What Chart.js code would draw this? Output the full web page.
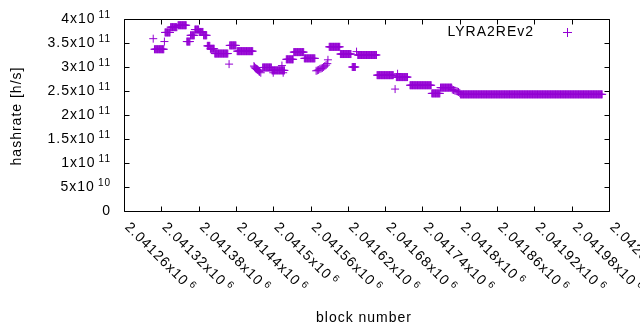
<!DOCTYPE html>
<html><head><meta charset="utf-8">
<script src="https://cdn.jsdelivr.net/npm/chart.js@4/dist/chart.umd.min.js"></script>
<style>html,body{margin:0;padding:0;background:#fff}canvas{display:block}</style>
</head><body>
<canvas id="c" width="640" height="330"></canvas>
<script>
// ---- data ----
const seriesName = 'LYRA2REv2';
const xAxisTitle = 'block number';
const yAxisTitle = 'hashrate [h/s]';

// runs of consecutive blocks sharing one hashrate value (units of 1e11 h/s)
const runFrom  = [2041309,2041326,2041335,2041347,2041361,2041367,2041374,2041381,2041388,2041394,2041399,2041406,2041430,2041442,2041483,2041498,2041521,2041533,2041550,2041590,2041608,2041627,2041636,2041667,2041698,2041720,2041755,2041769,2041801];
const runTo    = [2041324,2041334,2041345,2041360,2041366,2041373,2041380,2041387,2041393,2041398,2041405,2041427,2041440,2041467,2041497,2041518,2041532,2041549,2041567,2041607,2041625,2041632,2041666,2041693,2041716,2041754,2041768,2041787,2042029];
const runRates = [3.37,3.72,3.83,3.87,3.53,3.66,3.78,3.73,3.66,3.44,3.38,3.28,3.45,3.33,2.99,2.93,3.16,3.31,3.18,3.42,3.27,3.00,3.25,2.83,2.79,2.62,2.45,2.57,2.43];

// individual points (block, hashrate in 1e11 h/s)
const pointBlocks = [2041307,2041325,2041429,2041469,2041470,2041471,2041472,2041473,2041474,2041475,2041476,2041477,2041478,2041480,2041500,2041514,2041516,2041569,2041571,2041573,2041575,2041577,2041579,2041581,2041583,2041585,2041587,2041588,2041634,2041696,2041700,2041788,2041790,2041792,2041794,2041796,2041798,2041800];
const pointRates  = [3.59,3.53,3.06,3.02,3.00,2.98,2.97,2.96,2.95,2.94,2.93,2.91,2.90,2.88,2.88,3.03,2.88,2.92,2.93,2.94,2.96,2.97,2.98,3.00,3.02,3.04,3.07,3.15,3.32,2.54,2.86,2.53,2.52,2.51,2.50,2.49,2.48,2.46];

// axis ticks
const xTickValues = [2041260,2041320,2041380,2041440,2041500,2041560,2041620,2041680,2041740,2041800,2041860,2041920,2041980,2042040];
const xTickMantissa = ['2.04126','2.04132','2.04138','2.04144','2.0415','2.04156','2.04162','2.04168','2.04174','2.0418','2.04186','2.04192','2.04198','2.04204'];
const xTickExponent = ['6','6','6','6','6','6','6','6','6','6','6','6','6','6'];
const yTickValues = [0,5e10,1e11,1.5e11,2e11,2.5e11,3e11,3.5e11,4e11];
const yTickMantissa = ['0','5x10','1x10','1.5x10','2x10','2.5x10','3x10','3.5x10','4x10'];
const yTickExponent = ['','10','11','11','11','11','11','11','11'];

// ---- build points ----
const pts = [];
for (let i = 0; i < runFrom.length; i++) {
  for (let b = runFrom[i]; b <= runTo[i]; b++) pts.push({x: b, y: runRates[i] * 1e11});
}
for (let i = 0; i < pointBlocks.length; i++) pts.push({x: pointBlocks[i], y: pointRates[i] * 1e11});

const COLOR = '#9400d3';
const FONT = '"Liberation Sans", Arial, sans-serif';

const decor = {
  id: 'decor',
  afterDraw(chart) {
    const ctx = chart.ctx, a = chart.chartArea;
    const xs = chart.scales.x, ys = chart.scales.y;
    ctx.save();
    ctx.strokeStyle = '#000';
    ctx.lineWidth = 1;
    const L = Math.round(a.left) + 0.5, R = Math.round(a.right) + 0.5, T = Math.round(a.top) + 0.5, B = Math.round(a.bottom) + 0.5;
    ctx.beginPath();
    ctx.rect(L, T, R - L, B - T);
    // x ticks (inward, mirrored)
    xTickValues.forEach(v => {
      const px = Math.round(xs.getPixelForValue(v)) + 0.5;
      ctx.moveTo(px, B); ctx.lineTo(px, B - 5);
      ctx.moveTo(px, T); ctx.lineTo(px, T + 5);
    });
    yTickValues.forEach(v => {
      const py = Math.round(ys.getPixelForValue(v)) + 0.5;
      ctx.moveTo(L, py); ctx.lineTo(L + 5, py);
      ctx.moveTo(R, py); ctx.lineTo(R - 5, py);
    });
    ctx.stroke();

    ctx.fillStyle = '#000';
    try { ctx.letterSpacing = '1px'; } catch (e) {}
    // y tick labels
    yTickValues.forEach((v, i) => {
      const py = ys.getPixelForValue(v);
      ctx.textBaseline = 'middle';
      ctx.textAlign = 'right';
      let right = 111;
      if (yTickExponent[i]) {
        ctx.font = '10px ' + FONT;
        ctx.fillText(yTickExponent[i], right, py - 4);
        right -= ctx.measureText(yTickExponent[i]).width + 3;
      }
      ctx.font = '14px ' + FONT;
      ctx.fillText(yTickMantissa[i], right, py + 0.5);
    });
    // x tick labels, rotated 45deg clockwise
    xTickValues.forEach((v, i) => {
      const px = xs.getPixelForValue(v);
      ctx.save();
      ctx.translate(px + 3, a.bottom + 14);
      ctx.rotate(Math.PI / 4);
      ctx.textAlign = 'left';
      ctx.textBaseline = 'middle';
      ctx.font = '14px ' + FONT;
      ctx.fillText(xTickMantissa[i], 0, 0);
      const w = ctx.measureText(xTickMantissa[i] + 'x10').width;
      ctx.fillText('x10', ctx.measureText(xTickMantissa[i]).width, 0);
      ctx.font = '10px ' + FONT;
      ctx.fillText(xTickExponent[i], w + 3, -4);
      ctx.restore();
    });
    // axis titles
    ctx.font = '14px ' + FONT;
    ctx.textAlign = 'center';
    ctx.textBaseline = 'middle';
    ctx.fillText(xAxisTitle, 364, 318);
    ctx.save();
    ctx.translate(17, 116);
    ctx.rotate(-Math.PI / 2);
    ctx.fillText(yAxisTitle, 0, 0);
    ctx.restore();
    // legend
    ctx.textAlign = 'right';
    ctx.fillText(seriesName, 534, 32);
    ctx.strokeStyle = COLOR;
    ctx.beginPath();
    ctx.moveTo(563, 32.5); ctx.lineTo(572, 32.5);
    ctx.moveTo(567.5, 28); ctx.lineTo(567.5, 37);
    ctx.stroke();
    ctx.restore();
  }
};

new Chart(document.getElementById('c'), {
  type: 'scatter',
  data: { datasets: [{
    label: seriesName,
    data: pts,
    pointStyle: 'cross',
    pointRadius: 4,
    borderColor: COLOR,
    backgroundColor: COLOR,
    borderWidth: 1,
    showLine: false
  }]},
  options: {
    responsive: false,
    animation: false,
    events: [],
    layout: { padding: { left: 124, right: 31, top: 19, bottom: 119 } },
    plugins: { legend: { display: false }, tooltip: { enabled: false } },
    scales: {
      x: { type: 'linear', display: false, min: xTickValues[0], max: xTickValues[xTickValues.length - 1] },
      y: { type: 'linear', display: false, min: yTickValues[0], max: yTickValues[yTickValues.length - 1] }
    }
  },
  plugins: [decor]
});
</script>
</body></html>
